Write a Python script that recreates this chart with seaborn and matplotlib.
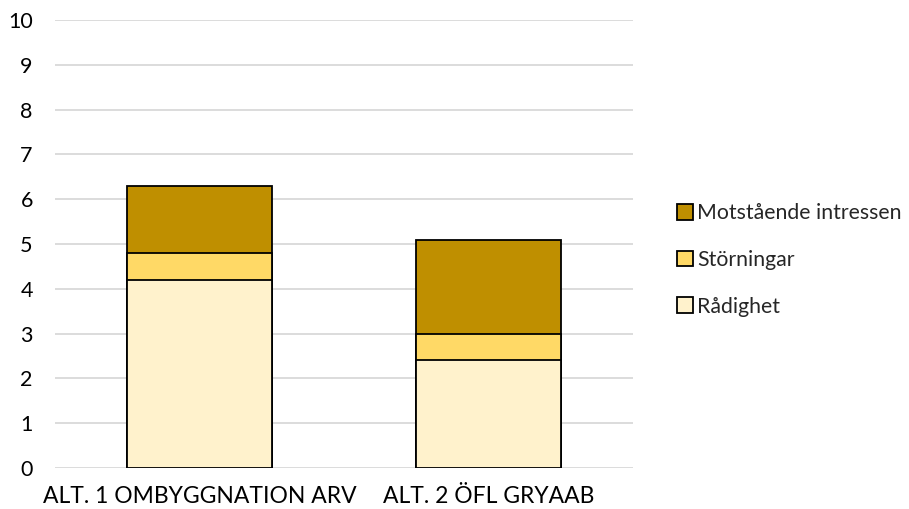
import matplotlib
matplotlib.use("Agg")
import matplotlib.pyplot as plt
from matplotlib.patches import Patch
import seaborn as sns
import pandas as pd
import numpy as np

categories = ["ALT. 1 OMBYGGNATION ARV", "ALT. 2 ÖFL GRYAAB"]
series_names = ["Rådighet", "Störningar", "Motstående intressen"]
radighet = [4.2, 2.4]
storningar = [0.6, 0.6]
motstaende = [1.5, 2.1]
colors = ["#FFF2CC", "#FFD966", "#BF8F00"]
y_ticks = list(range(0, 11))

sns.set_theme(style="white")
plt.rcParams["font.family"] = ["Lato", "DejaVu Sans"]

fig = plt.figure(figsize=(9.09, 5.09), dpi=100)
ax = fig.add_axes([55/909, 1-468/509, (633-55)/909, (468-20)/509])

series = [radighet, storningar, motstaende]
cum = np.cumsum(np.array(series), axis=0)

# draw from top of stack down so each lower segment overlays
for i in reversed(range(len(series))):
    df = pd.DataFrame({"cat": categories, "val": cum[i]})
    sns.barplot(data=df, x="cat", y="val", color=colors[i], width=0.5,
                edgecolor="black", linewidth=1.3, saturation=1, ax=ax, zorder=3)

ax.set_ylim(0, 10)
ax.set_xlim(-0.5, 1.5)
ax.set_yticks(y_ticks)
ax.yaxis.grid(True, color="#D9D9D9", linewidth=1.3, zorder=0)
ax.set_axisbelow(True)
for s in ax.spines.values():
    s.set_visible(False)
ax.set_xlabel("")
ax.set_ylabel("")
ax.tick_params(axis="y", length=0, pad=16, labelsize=15.5, colors="#000000")
ax.tick_params(axis="x", length=0, pad=13, labelsize=16.5, colors="#000000")

handles = [Patch(facecolor=colors[i], edgecolor="black", linewidth=1.3, label=series_names[i])
           for i in reversed(range(len(series)))]
fig.legend(handles=handles, loc="center left", bbox_to_anchor=(677/909, 1-260/509),
           frameon=False, fontsize=15.3, handlelength=0.75, handleheight=0.75,
           handletextpad=0.2, labelspacing=1.25, borderpad=0, borderaxespad=0)

fig.savefig("out.png", dpi=100)
